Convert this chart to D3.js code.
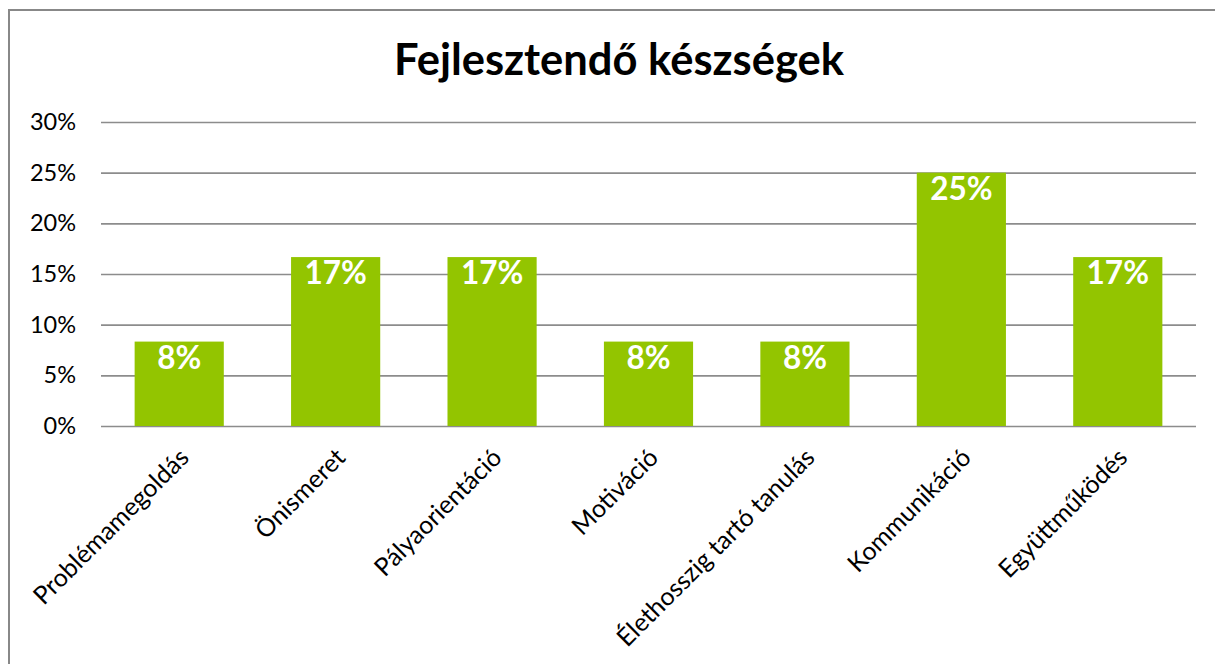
<!DOCTYPE html>
<html>
<head>
<meta charset="utf-8">
<script src="https://cdn.jsdelivr.net/npm/d3@7/dist/d3.min.js"></script>
<style>
  html, body { margin: 0; padding: 0; background: #fff; }
  svg { display: block; }
  text { font-family: Lato, "Noto Sans", sans-serif; }
</style>
</head>
<body>
<svg id="chart" width="1215" height="664"></svg>
<script>
// Skill categories and the share of responses for each
const categories = [
  "Problémamegoldás",
  "Önismeret",
  "Pályaorientáció",
  "Motiváció",
  "Élethosszig tartó tanulás",
  "Kommunikáció",
  "Együttműködés"
];
const shares = [0.0833, 0.1667, 0.1667, 0.0833, 0.0833, 0.25, 0.1667];
const yTicks = [0, 0.05, 0.10, 0.15, 0.20, 0.25, 0.30];
const chartTitle = "Fejlesztendő készségek";

const W = 1215, H = 664;
const plot = { left: 101, right: 1196, top: 122, bottom: 426 };
const barColor = "#93C500";
const gridColor = "#8C8C8C";

const svg = d3.select("#chart");

// Chart frame
svg.append("rect")
  .attr("x", 9).attr("y", 10)
  .attr("width", W + 20).attr("height", H + 20)
  .attr("fill", "#fff")
  .attr("stroke", "#888").attr("stroke-width", 2);

const x = d3.scaleBand()
  .domain(categories)
  .range([plot.left, plot.right])
  .paddingInner(0.43)
  .paddingOuter(0.215);

const y = d3.scaleLinear()
  .domain([0, 0.30])
  .range([plot.bottom, plot.top]);

// Title
svg.append("text")
  .attr("x", 619).attr("y", 75)
  .attr("text-anchor", "middle")
  .attr("font-size", 43.5)
  .attr("font-weight", 700)
  .attr("fill", "#000")
  .text(chartTitle);

// Horizontal gridlines with percent labels
const yAxis = d3.axisLeft(y)
  .tickValues(yTicks)
  .tickSize(-(plot.right - plot.left))
  .tickPadding(25)
  .tickFormat(d3.format(".0%"));

const gy = svg.append("g")
  .attr("transform", `translate(${plot.left},0)`)
  .call(yAxis);
gy.select(".domain").remove();
gy.selectAll(".tick line")
  .attr("stroke", gridColor)
  .attr("stroke-width", 1.7);
gy.selectAll(".tick text")
  .attr("font-size", 23.5)
  .attr("fill", "#000")
  .attr("font-family", "Lato, sans-serif");

// Bars
svg.append("g")
  .selectAll("rect")
  .data(categories)
  .join("rect")
  .attr("x", d => x(d))
  .attr("width", x.bandwidth())
  .attr("y", (d, i) => y(shares[i]))
  .attr("height", (d, i) => y(0) - y(shares[i]))
  .attr("fill", barColor);

// Value labels inside the top of each bar
const pct = d3.format(".0%");
svg.append("g")
  .selectAll("text")
  .data(categories)
  .join("text")
  .attr("x", d => x(d) + x.bandwidth() / 2)
  .attr("y", (d, i) => y(shares[i]) + 27)
  .attr("text-anchor", "middle")
  .attr("font-size", 31.5)
  .attr("font-weight", 700)
  .attr("fill", "#fff")
  .text((d, i) => pct(shares[i]));

// Category labels, rotated 45 degrees below the axis
svg.append("g")
  .selectAll("text")
  .data(categories)
  .join("text")
  .attr("transform", d => {
    const cx = x(d) + x.bandwidth() / 2 + 5;
    return `translate(${cx},${plot.bottom + 27}) rotate(-45)`;
  })
  .attr("text-anchor", "end")
  .attr("dy", "0.35em")
  .attr("font-size", 25)
  .attr("fill", "#000")
  .text(d => d);
</script>
</body>
</html>
